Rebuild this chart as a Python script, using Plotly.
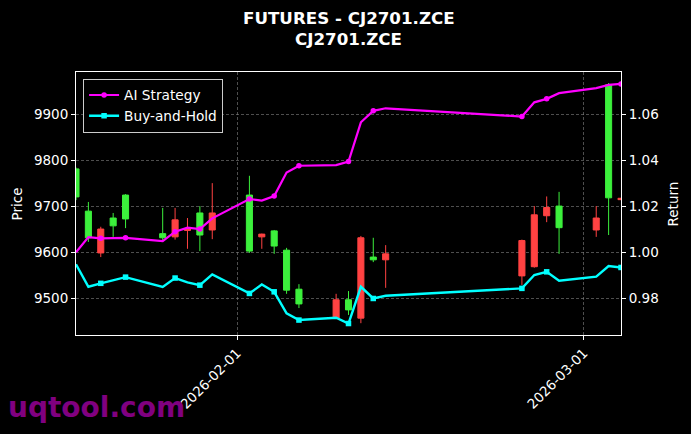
import plotly.graph_objects as go

# ---- data ----
dates = ["2026-01-19", "2026-01-20", "2026-01-21", "2026-01-22", "2026-01-23",
         "2026-01-26", "2026-01-27", "2026-01-28", "2026-01-29", "2026-01-30",
         "2026-02-02", "2026-02-03", "2026-02-04", "2026-02-05", "2026-02-06",
         "2026-02-09", "2026-02-10", "2026-02-11", "2026-02-12", "2026-02-13",
         "2026-02-24", "2026-02-25", "2026-02-26", "2026-02-27",
         "2026-03-02", "2026-03-03", "2026-03-04"]
opens = [9721, 9632, 9651, 9658, 9673, 9632, 9671, 9652, 9638, 9686,
         9603, 9640, 9614, 9518, 9488, 9497, 9475, 9632, 9584, 9597,
         9626, 9682, 9698, 9654, 9675, 9719, 9718]
highs = [9785, 9710, 9656, 9686, 9727, 9697, 9697, 9675, 9701, 9751,
         9767, 9641, 9649, 9610, 9531, 9510, 9516, 9636, 9632, 9616,
         9628, 9701, 9722, 9732, 9701, 9969, 9719]
lows = [9714, 9623, 9590, 9634, 9653, 9627, 9628, 9608, 9603, 9629,
        9599, 9608, 9597, 9510, 9479, 9455, 9464, 9446, 9579, 9523,
        9529, 9567, 9666, 9597, 9634, 9638, 9714]
closes = [9782, 9690, 9599, 9675, 9725, 9641, 9634, 9648, 9686, 9649,
          9725, 9634, 9647, 9605, 9520, 9457, 9497, 9457, 9590, 9584,
          9549, 9569, 9680, 9701, 9649, 9965, 9715]

ai_strategy = [1.0001, 1.0067, 1.0062, 1.0062, 1.0064, 1.0050, 1.0091, 1.0108, 1.0102, 1.0149,
               1.0233, 1.0226, 1.0246, 1.0348, 1.0378, 1.0381, 1.0396, 1.0567, 1.0617, 1.0628,
               1.0592, 1.0654, 1.0669, 1.0694, 1.0716, 1.0730, 1.0734]
buy_hold = [0.9949, 0.9851, 0.9866, 0.9880, 0.9893, 0.9850, 0.9889, 0.9870, 0.9858, 0.9905,
            0.9822, 0.9861, 0.9829, 0.9735, 0.9706, 0.9716, 0.9691, 0.9851, 0.9800, 0.9812,
            0.9844, 0.9902, 0.9916, 0.9877, 0.9895, 0.9941, 0.9935]
marked = [2, 4, 6, 8, 10, 12, 14, 16, 18, 20, 22, 26]

price_ticks = [9500, 9600, 9700, 9800, 9900]
return_ticks = [0.98, 1.00, 1.02, 1.04, 1.06]
x_ticks = ["2026-02-01", "2026-03-01"]
x_tick_labels = ["2026-02-01", "2026-03-01"]

title_line1 = "FUTURES - CJ2701.ZCE"
title_line2 = "CJ2701.ZCE"

GREEN = "#3cf03c"
RED = "#ff4242"
MAGENTA = "#ff00ff"
CYAN = "#00ffff"
FONT = "DejaVu Sans"
GRID = "rgba(130,130,130,0.6)"

fig = go.Figure()

fig.add_trace(go.Candlestick(
    x=dates, open=opens, high=highs, low=lows, close=closes,
    increasing=dict(line=dict(color=GREEN, width=1), fillcolor=GREEN),
    decreasing=dict(line=dict(color=RED, width=1), fillcolor=RED),
    whiskerwidth=0, showlegend=False, yaxis="y", hoverinfo="skip",
))

mk_dates = [dates[i] for i in marked]
mk_ai = [ai_strategy[i] for i in marked]
mk_bh = [buy_hold[i] for i in marked]

series = [
    ("AI Strategy", ai_strategy, mk_ai, MAGENTA, 2.2, "circle"),
    ("Buy-and-Hold", buy_hold, mk_bh, CYAN, 2.4, "square"),
]
for name, vals, mvals, color, lw, sym in series:
    fig.add_trace(go.Scatter(
        x=dates, y=vals, name=name, mode="lines", legendgroup=name,
        line=dict(color=color, width=lw), showlegend=False, yaxis="y2",
    ))
    fig.add_trace(go.Scatter(
        x=mk_dates, y=mvals, name=name, mode="markers", legendgroup=name,
        marker=dict(color=color, size=5.5, symbol=sym, line=dict(width=0)),
        showlegend=False, yaxis="y2",
    ))
    # legend entry (line with marker), no data of its own
    fig.add_trace(go.Scatter(
        x=[None], y=[None], name=name, mode="lines+markers", legendgroup=name,
        line=dict(color=color, width=lw),
        marker=dict(color=color, size=5.5, symbol=sym, line=dict(width=0)),
        yaxis="y2",
    ))

axis_common = dict(
    showline=True, linecolor="white", linewidth=1,
    ticks="outside", tickcolor="white", ticklen=4, tickwidth=1,
    tickfont=dict(family=FONT, size=13.5, color="white"),
    zeroline=False, automargin=False,
)

fig.update_layout(
    width=691, height=434,
    margin=dict(l=76, r=70, t=72, b=99),
    paper_bgcolor="black", plot_bgcolor="black",
    font=dict(family=FONT, color="white"),
    showlegend=True,
    legend=dict(
        x=0.013, y=0.975, xanchor="left", yanchor="top",
        bgcolor="black", bordercolor="#cccccc", borderwidth=1,
        font=dict(family=FONT, size=13.7, color="white"),
        tracegroupgap=0,
    ),
    xaxis=dict(
        type="date", range=["2026-01-19", "2026-03-04"],
        tickmode="array", tickvals=x_ticks, ticktext=x_tick_labels,
        tickangle=-45, mirror=True,
        showgrid=True, gridcolor=GRID, griddash="3px,2px", gridwidth=0.8,
        rangeslider=dict(visible=False),
        **axis_common,
    ),
    yaxis=dict(
        range=[9420.3, 9993],
        tickmode="array", tickvals=price_ticks, tickformat="d",
        showgrid=True, gridcolor=GRID, griddash="3px,2px", gridwidth=0.8,
        mirror=False,
        **axis_common,
    ),
    yaxis2=dict(
        range=[0.9641, 1.0786], overlaying="y", side="right",
        tickmode="array", tickvals=return_ticks,
        tickformat=".2f",
        showgrid=False,
        **axis_common,
    ),
    annotations=[
        dict(text="<b>" + title_line1 + "</b>", xref="paper", yref="paper",
             x=0.5, y=1.2053, xanchor="center", yanchor="middle", showarrow=False,
             font=dict(family=FONT, size=16.7, color="white")),
        dict(text="<b>" + title_line2 + "</b>", xref="paper", yref="paper",
             x=0.5, y=1.1255, xanchor="center", yanchor="middle", showarrow=False,
             font=dict(family=FONT, size=16.7, color="white")),
        dict(text="Price", xref="paper", yref="paper", x=-0.1083, y=0.5,
             textangle=-90, showarrow=False, xanchor="center", yanchor="middle",
             font=dict(family=FONT, size=13.5, color="white")),
        dict(text="Return", xref="paper", yref="paper", x=1.0954, y=0.5,
             textangle=-90, showarrow=False, xanchor="center", yanchor="middle",
             font=dict(family=FONT, size=13.5, color="white")),
        dict(text="<b>uqtool.com</b>", xref="paper", yref="paper", x=-0.1284, y=-0.2738,
             xanchor="left", yanchor="middle", showarrow=False,
             font=dict(family=FONT, size=28, color="#800080")),
    ],
)

fig.write_html(
    "out.html",
    config={"displayModeBar": False},
    post_script="document.body.style.margin='0';document.body.style.background='black';",
)
